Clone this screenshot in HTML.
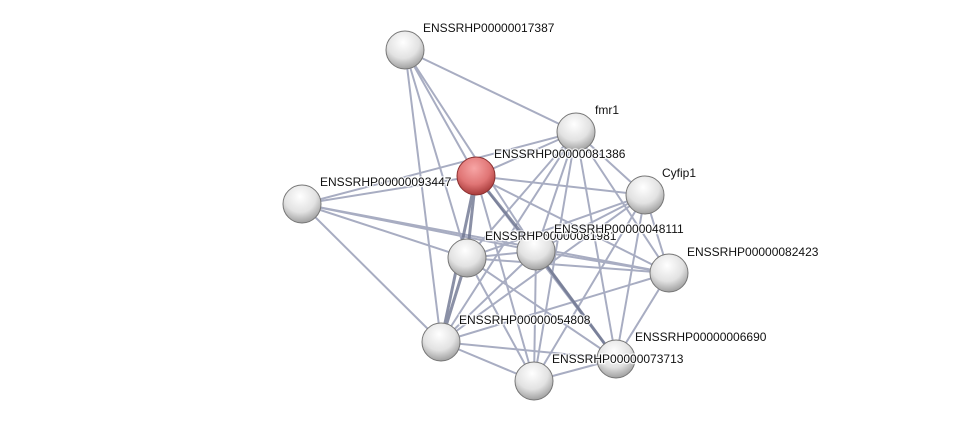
<!DOCTYPE html>
<html><head><meta charset="utf-8"><style>
body{margin:0;background:#fff;width:975px;height:426px;overflow:hidden}
text{font-family:"Liberation Sans",sans-serif;font-size:12px;fill:#111;paint-order:stroke;stroke:#fff;stroke-width:2.5px;stroke-opacity:.8}
</style></head><body>
<svg width="975" height="426" viewBox="0 0 975 426">
<defs>
<radialGradient id="g" cx="45%" cy="30%" r="70%"><stop offset="0" stop-color="#fff"/><stop offset=".6" stop-color="#e2e2e2"/><stop offset="1" stop-color="#a0a0a0"/></radialGradient>
<radialGradient id="r" cx="45%" cy="30%" r="70%"><stop offset="0" stop-color="#f7a5a5"/><stop offset=".6" stop-color="#e07575"/><stop offset="1" stop-color="#a83b3b"/></radialGradient>
</defs>
<g stroke="#9a9fb8" stroke-width="2" fill="none" opacity=".85">
<line x1="405" y1="50" x2="576" y2="132"/><line x1="405" y1="50" x2="476" y2="176"/><line x1="405" y1="50" x2="467" y2="258"/><line x1="405" y1="50" x2="441" y2="342"/><line x1="405" y1="50" x2="536" y2="251"/>
<line x1="302" y1="204" x2="476" y2="176"/><line x1="302" y1="204" x2="576" y2="132"/><line x1="302" y1="204" x2="467" y2="258"/><line x1="302" y1="204" x2="536" y2="251"/><line x1="302" y1="204" x2="669" y2="273"/><line x1="302" y1="204" x2="441" y2="342"/>
<line x1="476" y1="176" x2="576" y2="132"/><line x1="476" y1="176" x2="645" y2="195"/><line x1="476" y1="176" x2="669" y2="273"/><line x1="476" y1="176" x2="534" y2="381"/><line x1="476" y1="176" x2="616" y2="359"/>
<line x1="576" y1="132" x2="645" y2="195"/><line x1="576" y1="132" x2="467" y2="258"/><line x1="576" y1="132" x2="536" y2="251"/><line x1="576" y1="132" x2="669" y2="273"/><line x1="576" y1="132" x2="616" y2="359"/><line x1="576" y1="132" x2="534" y2="381"/><line x1="576" y1="132" x2="441" y2="342"/>
<line x1="645" y1="195" x2="467" y2="258"/><line x1="645" y1="195" x2="536" y2="251"/><line x1="645" y1="195" x2="669" y2="273"/><line x1="645" y1="195" x2="441" y2="342"/><line x1="645" y1="195" x2="534" y2="381"/><line x1="645" y1="195" x2="616" y2="359"/>
<line x1="467" y1="258" x2="536" y2="251"/><line x1="467" y1="258" x2="669" y2="273"/><line x1="467" y1="258" x2="534" y2="381"/><line x1="467" y1="258" x2="616" y2="359"/>
<line x1="536" y1="251" x2="669" y2="273"/><line x1="536" y1="251" x2="441" y2="342"/><line x1="536" y1="251" x2="534" y2="381"/><line x1="536" y1="251" x2="616" y2="359"/>
<line x1="669" y1="273" x2="441" y2="342"/><line x1="669" y1="273" x2="616" y2="359"/>
<line x1="441" y1="342" x2="534" y2="381"/><line x1="441" y1="342" x2="616" y2="359"/><line x1="534" y1="381" x2="616" y2="359"/>
</g>
<g stroke="#6e7590" stroke-width="3" opacity=".8">
<line x1="476" y1="176" x2="467" y2="258"/><line x1="476" y1="176" x2="441" y2="342"/><line x1="476" y1="176" x2="536" y2="251"/><line x1="467" y1="258" x2="441" y2="342"/><line x1="536" y1="251" x2="616" y2="359"/>
</g>
<g stroke="#777" stroke-width="1">
<circle cx="405" cy="50" r="19" fill="url(#g)"/><circle cx="576" cy="132" r="19" fill="url(#g)"/><circle cx="645" cy="195" r="19" fill="url(#g)"/><circle cx="302" cy="204" r="19" fill="url(#g)"/><circle cx="467" cy="258" r="19" fill="url(#g)"/><circle cx="536" cy="251" r="19" fill="url(#g)"/><circle cx="669" cy="273" r="19" fill="url(#g)"/><circle cx="441" cy="342" r="19" fill="url(#g)"/><circle cx="616" cy="359" r="19" fill="url(#g)"/><circle cx="534" cy="381" r="19" fill="url(#g)"/>
<circle cx="476" cy="176" r="19" fill="url(#r)" stroke="#8a3030"/>
</g>
<text x="423" y="32">ENSSRHP00000017387</text>
<text x="595" y="114">fmr1</text>
<text x="494" y="158">ENSSRHP00000081386</text>
<text x="662" y="177">Cyfip1</text>
<text x="320" y="186">ENSSRHP00000093447</text>
<text x="485" y="240">ENSSRHP00000081981</text>
<text x="554" y="233">ENSSRHP00000048111</text>
<text x="687" y="256">ENSSRHP00000082423</text>
<text x="459" y="324">ENSSRHP00000054808</text>
<text x="635" y="341">ENSSRHP00000006690</text>
<text x="552" y="363">ENSSRHP00000073713</text>
</svg>
</body></html>
